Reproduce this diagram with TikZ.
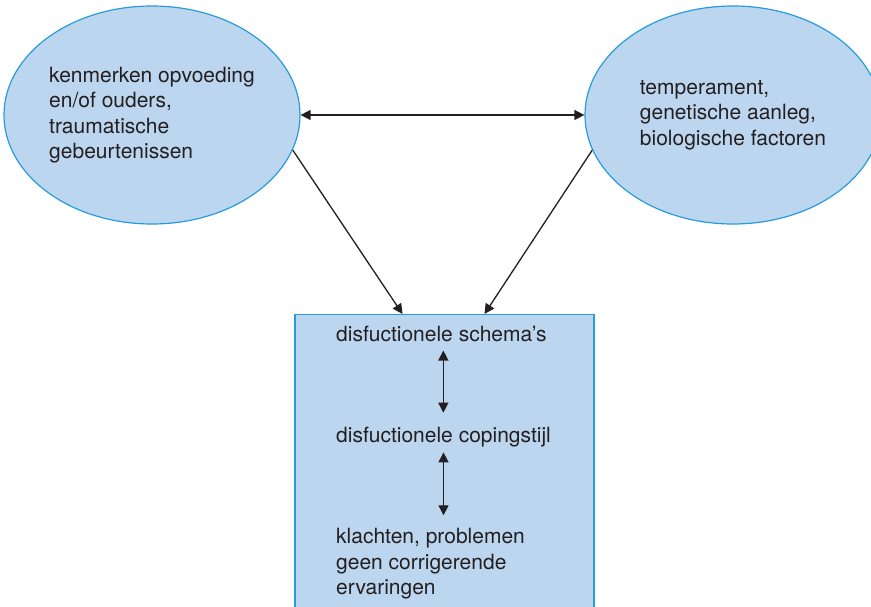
\documentclass[tikz,border=0pt]{standalone}
\usepackage{fontspec}
\setmainfont{TeX Gyre Heros}
\usetikzlibrary{arrows.meta,positioning,shapes.geometric}
\definecolor{skyfill}{RGB}{189,214,239}
\definecolor{skyline}{RGB}{38,157,216}
\definecolor{ink}{RGB}{35,31,32}

\begin{document}
\begin{tikzpicture}[x=1pt,y=-1pt,>={Triangle[length=10pt,width=10pt]},
    every node/.style={font=\fontsize{21}{25.5}\selectfont,text=ink},
    oval/.style={ellipse,draw=skyline,fill=skyfill,line width=1.2pt,inner sep=0pt,
      minimum width=296pt,minimum height=218pt,align=left},
    lbl/.style={inner sep=0pt,align=left},
    con/.style={draw=ink,line width=1.3pt}]
  \useasboundingbox (0,0) rectangle (871,607);
  \clip (0,0) rectangle (871,607);
  \node[oval] (opvoeding) at (152,115) {kenmerken opvoeding\\en/of ouders,\\traumatische\\gebeurtenissen};
  \node[oval] (temperament) at (733,115) {temperament,\\genetische aanleg,\\biologische factoren};
  \node[draw=skyline,fill=skyfill,line width=1.2pt,minimum width=299pt,minimum height=320pt,anchor=north] (box) at (444.5,314) {};
  \node[lbl,anchor=base west] (schema) at (336,341) {disfuctionele schema's};
  \node[lbl,anchor=base west] (coping) at (336,442) {disfuctionele copingstijl};
  \node[lbl,anchor=north west] (klachten) at (336,528) {klachten, problemen\\geen corrigerende\\ervaringen};
  % verbindingen
  \draw[con,<->] (opvoeding) -- (temperament);
  \draw[con,->] (opvoeding.-14) -- ([xshift=-42pt]box.north);
  \draw[con,->] (temperament.194) -- ([xshift=40pt]box.north);
  \draw[con,<->,shorten <=9pt,shorten >=13.7pt] ([xshift=2pt]schema.south) -- ([xshift=2pt]schema.south |- coping.north);
  \draw[con,<->,shorten <=5.6pt,shorten >=12.7pt] (coping.south) -- (coping.south |- klachten.north);
\end{tikzpicture}
\end{document}
